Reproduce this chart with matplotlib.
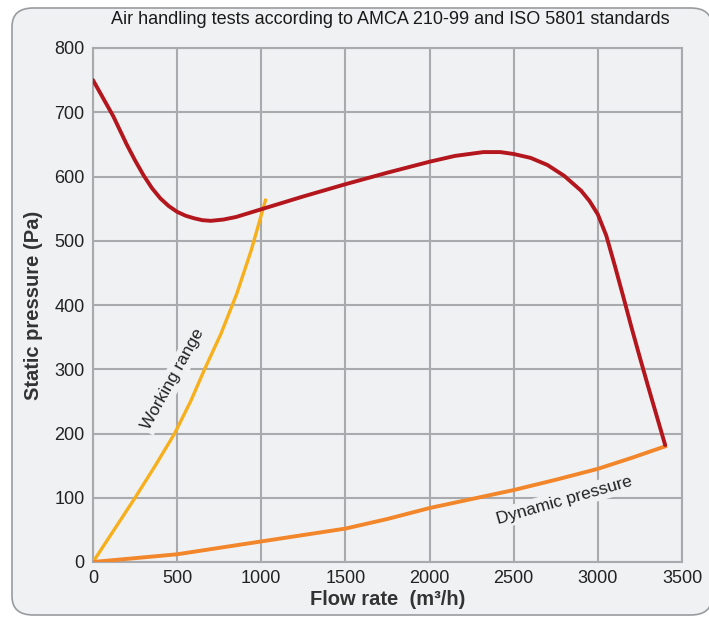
import matplotlib
matplotlib.use("Agg")
import matplotlib.pyplot as plt
from matplotlib.patches import FancyBboxPatch
from matplotlib import font_manager

names = {f.name for f in font_manager.fontManager.ttflist}
NARROW = "Liberation Sans Narrow" if "Liberation Sans Narrow" in names else "Liberation Sans"
plt.rcParams['font.family'] = ['Liberation Sans', 'DejaVu Sans']

# ---- data ----
static_x = [0, 60, 120, 200, 250, 300, 350, 400, 450, 500, 550, 600, 650, 700,
            775, 850, 925, 1000, 1250, 1500, 1750, 2000, 2150, 2320, 2420, 2500,
            2600, 2700, 2800, 2900, 2950, 3000, 3050, 3100, 3150, 3200, 3250,
            3300, 3350, 3400]
static_y = [750, 722, 694, 650, 625, 602, 582, 566, 554, 545, 539, 535, 532, 531,
            533, 537, 543, 549, 569, 588, 606, 623, 632, 638, 638, 635,
            629, 618, 601, 578, 562, 541, 508, 462, 414, 365, 318,
            272, 227, 182]

working_x = [0, 125, 250, 370, 485, 580, 663, 760, 855, 940, 1025]
working_y = [0, 50, 100, 150, 200, 250, 300, 355, 418, 485, 563]

dynamic_x = [0, 250, 500, 700, 1000, 1250, 1500, 1750, 2000, 2250, 2500, 2750,
             3000, 3200, 3400]
dynamic_y = [0, 6, 12, 20, 32, 42, 52, 67, 84, 98, 112, 128, 145, 162, 180]

x_ticks = [0, 500, 1000, 1500, 2000, 2500, 3000, 3500]
y_ticks = [0, 100, 200, 300, 400, 500, 600, 700, 800]

title = "Air handling tests according to AMCA 210-99 and ISO 5801 standards"

BG = "#f0f1f3"
GRID = "#a9aaad"

fig = plt.figure(figsize=(7.09, 6.23), dpi=100)
fig.patch.set_facecolor("white")
border = FancyBboxPatch((12/709, 8/623), 700/709, 607/623,
                        boxstyle="round,pad=0,rounding_size=0.03",
                        transform=fig.transFigure, facecolor=BG,
                        edgecolor="#9a9b9e", linewidth=1.2, zorder=-10)
fig.patches.append(border)

ax = fig.add_axes([93/709, 1 - 562/623, (682 - 93)/709, (562 - 48)/623])
ax.set_facecolor(BG)
ax.set_xlim(0, 3500)
ax.set_ylim(0, 800)
ax.set_xticks(x_ticks)
ax.set_yticks(y_ticks)
ax.tick_params(length=0, colors="#222222", pad=6)
for lab in ax.get_xticklabels() + ax.get_yticklabels():
    lab.set_family(NARROW)
    lab.set_fontsize(13)
ax.grid(True, color=GRID, linewidth=1.5)
ax.set_axisbelow(True)
for s in ax.spines.values():
    s.set_color(GRID)
    s.set_linewidth(1.5)

ax.plot(static_x, static_y, color="#b3171d", linewidth=2.8,
        solid_capstyle="round", solid_joinstyle="round", zorder=4)
ax.plot(working_x, working_y, color="#f7b01b", linewidth=2.4,
        solid_joinstyle="round", zorder=3)
ax.plot(dynamic_x, dynamic_y, color="#f2862a", linewidth=2.8,
        solid_joinstyle="round", zorder=3)

ax.text(476, 285, "Working range", rotation=61, ha="center", va="center",
        fontsize=12.5, family=NARROW, color="#222222",
        bbox=dict(facecolor=BG, edgecolor="none", pad=2), zorder=2)
ax.text(2800, 96, "Dynamic pressure", rotation=16, ha="center", va="center",
        fontsize=12.5, family=NARROW, color="#222222",
        bbox=dict(facecolor=BG, edgecolor="none", pad=2), zorder=2)

ax.set_xlabel("Flow rate  (m³/h)", fontsize=14.5, fontweight="bold", color="#333333", labelpad=2)
ax.set_ylabel("Static pressure (Pa)", fontsize=14.5, fontweight="bold", color="#333333", labelpad=8)

fig.text(390/709, 1 - 20/623, title, ha="center", va="center", fontsize=13,
         family=NARROW, color="#1a1a1a")

fig.savefig("out.png", dpi=100, facecolor=fig.get_facecolor())
